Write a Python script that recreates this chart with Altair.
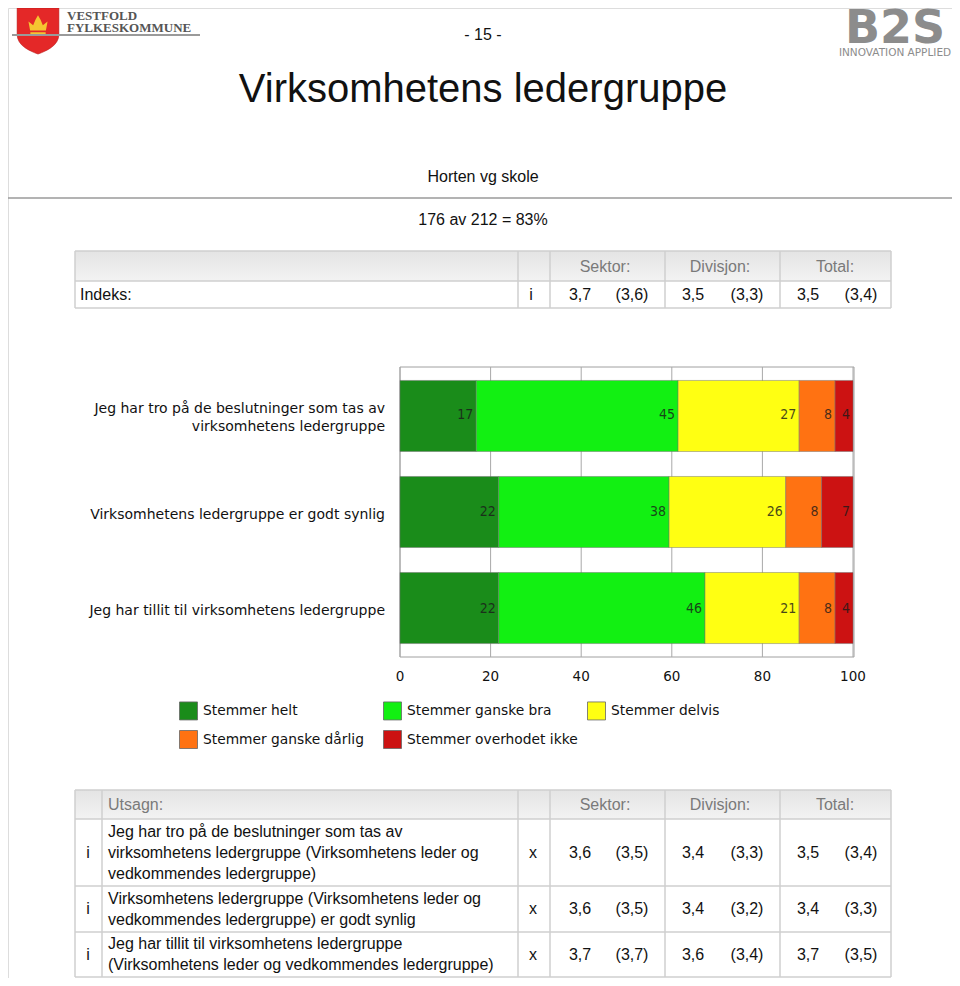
import altair as alt
import pandas as pd

# ------------------------------------------------------------------ data
questions = [
    "Jeg har tro på de beslutninger som tas av virksomhetens ledergruppe",
    "Virksomhetens ledergruppe er godt synlig",
    "Jeg har tillit til virksomhetens ledergruppe",
]
question_labels = [
    "Jeg har tro på de beslutninger som tas av\nvirksomhetens ledergruppe",
    "Virksomhetens ledergruppe er godt synlig",
    "Jeg har tillit til virksomhetens ledergruppe",
]
categories = [
    "Stemmer helt",
    "Stemmer ganske bra",
    "Stemmer delvis",
    "Stemmer ganske dårlig",
    "Stemmer overhodet ikke",
]
stemmer_helt = [17, 22, 22]
stemmer_ganske_bra = [45, 38, 46]
stemmer_delvis = [27, 26, 21]
stemmer_ganske_darlig = [8, 8, 8]
stemmer_overhodet_ikke = [4, 7, 4]
x_ticks = [0, 20, 40, 60, 80, 100]

page_number = "- 15 -"
page_title = "Virksomhetens ledergruppe"
unit_name = "Horten vg skole"
response_rate = "176 av 212 = 83%"

col_headers = ["Sektor:", "Divisjon:", "Total:"]
index_label = "Indeks:"
index_values = ["3,7", "(3,6)", "3,5", "(3,3)", "3,5", "(3,4)"]

statement_header = "Utsagn:"
statements = [
    "Jeg har tro på de beslutninger som tas av\nvirksomhetens ledergruppe (Virksomhetens leder og\nvedkommendes ledergruppe)",
    "Virksomhetens ledergruppe (Virksomhetens leder og\nvedkommendes ledergruppe) er godt synlig",
    "Jeg har tillit til virksomhetens ledergruppe\n(Virksomhetens leder og vedkommendes ledergruppe)",
]
sektor_now = ["3,6", "3,6", "3,7"]
sektor_prev = ["(3,5)", "(3,5)", "(3,7)"]
divisjon_now = ["3,4", "3,4", "3,6"]
divisjon_prev = ["(3,3)", "(3,2)", "(3,4)"]
total_now = ["3,5", "3,4", "3,7"]
total_prev = ["(3,4)", "(3,3)", "(3,5)"]

# ------------------------------------------------------------------ styles
colors = ["#1a8c1a", "#12f012", "#ffff12", "#ff7212", "#cc1212"]
SANS = "Liberation Sans, Arial, sans-serif"
CHARTF = "DejaVu Sans, Verdana, sans-serif"
NARROW = "Liberation Sans Narrow, DejaVu Sans Condensed, sans-serif"
W, H = 944, 970


def p(v):
    """page pixel -> chart pixel (page has 8px margin)"""
    return v - 8


one = pd.DataFrame({"k": [0]})


def text(s, x, y, size=15, align="left", color="#111", font=SANS,
         weight="normal", baseline="middle", lh=None):
    kw = dict(text=s, align=align, baseline=baseline, fontSize=size,
              font=font, color=color, fontWeight=weight, lineBreak="\n")
    if lh is not None:
        kw["lineHeight"] = lh
        # centre a multi-line block on y
        n = s.count("\n") + 1
        kw["dy"] = -(n - 1) * lh / 2
    return alt.Chart(one).mark_text(**kw).encode(
        x=alt.value(p(x)), y=alt.value(p(y)))


def hline(x1, x2, y, color="#cfcfcf", w=1.5):
    return alt.Chart(one).mark_rule(color=color, strokeWidth=w).encode(
        x=alt.value(p(x1)), x2=alt.value(p(x2)), y=alt.value(p(y)))


def vline(x, y1, y2, color="#cfcfcf", w=1.5):
    return alt.Chart(one).mark_rule(color=color, strokeWidth=w).encode(
        x=alt.value(p(x)), y=alt.value(p(y1)), y2=alt.value(p(y2)))


def box(x1, x2, y1, y2, fill, stroke=None, sw=0):
    kw = dict(fill=fill, strokeWidth=sw)
    if stroke:
        kw["stroke"] = stroke
    return alt.Chart(one).mark_rect(**kw).encode(
        x=alt.value(p(x1)), x2=alt.value(p(x2)),
        y=alt.value(p(y1)), y2=alt.value(p(y2)))


layers = []

# ------------------------------------------------------------------ logos
shield = "M -1 -1 L 1 -1 L 1 0.25 C 1 0.8 0.4 1.05 0 1.2 C -0.4 1.05 -1 0.8 -1 0.25 Z"
crown = ("M -0.62 0.35 L -0.75 -0.35 L -0.38 -0.05 L -0.2 -0.5 L 0 -0.85 "
         "L 0.2 -0.5 L 0.38 -0.05 L 0.75 -0.35 L 0.62 0.35 Z M -0.6 0.5 L 0.6 0.5 L 0.6 0.75 L -0.6 0.75 Z")
layers.append(alt.Chart(one).mark_point(shape=shield, filled=True, fill="#e42828",
                                        size=1750, opacity=1, stroke="#b01818", strokeWidth=0.5)
              .encode(x=alt.value(p(38)), y=alt.value(p(29))))
layers.append(alt.Chart(one).mark_point(shape=crown, filled=True, fill="#f5c531",
                                        size=650, opacity=1)
              .encode(x=alt.value(p(38)), y=alt.value(p(26))))
layers.append(text("VESTFOLD", 67, 20, size=13, font="Liberation Serif, serif",
                   weight="bold", color="#555", baseline="alphabetic"))
layers.append(text("FYLKESKOMMUNE", 67, 32, size=13, font="Liberation Serif, serif",
                   weight="bold", color="#555", baseline="alphabetic"))
layers.append(hline(12, 200, 35, color="#9a9a9a", w=2))

layers.append(text("B2S", 895, 43, size=46, font="DejaVu Sans, sans-serif",
                   weight="bold", color="#8c8c8c", align="center", baseline="alphabetic"))
layers.append(text("INNOVATION APPLIED", 895, 53, size=10.5, font="DejaVu Sans, sans-serif",
                   color="#8c8c8c", align="center", baseline="middle"))

# ------------------------------------------------------------------ header
layers.append(text(page_number, 483, 35, size=16, align="center"))
layers.append(text(page_title, 483, 102, size=40, align="center", baseline="alphabetic"))
layers.append(text(unit_name, 483, 177, size=16, align="center"))
layers.append(hline(8, 960, 198, color="#9a9a9a", w=1.5))
layers.append(text(response_rate, 483, 220, size=16, align="center"))

# ------------------------------------------------------------------ top table
hdr_grad = alt.Gradient(gradient="linear", stops=[
    alt.GradientStop(color="#e4e4e4", offset=0),
    alt.GradientStop(color="#f3f3f3", offset=1)], x1=0, x2=0, y1=0, y2=1)
TL, TR = 75, 891
cols_b = [518, 550, 665, 780]
head_c = [605, 720, 835]
val_c = [580, 632, 693, 747, 808, 861]
TS = 16

layers.append(alt.Chart(one).mark_rect(fill=hdr_grad).encode(
    x=alt.value(p(TL)), x2=alt.value(p(TR)), y=alt.value(p(251)), y2=alt.value(p(281))))
for y in [251, 281, 308]:
    layers.append(hline(TL, TR, y))
for x in [TL] + cols_b + [TR]:
    layers.append(vline(x, 251, 308))
for s, x in zip(col_headers, head_c):
    layers.append(text(s, x, 267, size=16, align="center", color="#7a7a7a"))
layers.append(text(index_label, 80, 295, size=TS))
layers.append(text("i", 531, 295, size=TS, align="center"))
for s, x in zip(index_values, val_c):
    layers.append(text(s, x, 295, size=TS, align="center"))

# ------------------------------------------------------------------ bar chart
rows = []
series = [stemmer_helt, stemmer_ganske_bra, stemmer_delvis,
          stemmer_ganske_darlig, stemmer_overhodet_ikke]
for qi, q in enumerate(questions):
    for ci, c in enumerate(categories):
        rows.append({"question": q, "category": c, "order": ci, "value": series[ci][qi]})
df = pd.DataFrame(rows)

xs = alt.Scale(domain=[0, 1], range=[p(400), p(853)], nice=False, zero=False)
xs100 = alt.Scale(domain=[0, 100], range=[p(400), p(853)], nice=False, zero=False)
ys = alt.Scale(domain=questions, range=[p(367), p(657)], paddingInner=0.26, paddingOuter=0.14)

tick_df = pd.DataFrame({"t": x_ticks})

# frame + grid
layers.append(box(400, 854, 367, 657, fill="white", stroke="#a0a0a0", sw=1))
layers.append(alt.Chart(tick_df).mark_rule(color="#a8a8a8", strokeWidth=1).encode(
    x=alt.X("t:Q", scale=xs100, axis=None),
    y=alt.value(p(367)), y2=alt.value(p(657))))

stack = dict(stack="value", groupby=["question"], as_=["x0", "x1"], offset="normalize",
             sort=[alt.SortField("order", "ascending")])

bars = alt.Chart(df).transform_stack(**stack).mark_bar(
    stroke="#707070", strokeWidth=0.8, strokeOpacity=0.6, opacity=1).encode(
    x=alt.X("x0:Q", scale=xs, axis=None),
    x2="x1:Q",
    y=alt.Y("question:N", scale=ys, axis=None, sort=questions),
    color=alt.Color("category:N", scale=alt.Scale(domain=categories, range=colors),
                    sort=categories,
                    legend=alt.Legend(orient="none", legendX=p(179), legendY=p(701),
                                      direction="horizontal", gridAlign="all",
                                      columns=3, title=None, symbolType="square",
                                      symbolSize=324, symbolStrokeWidth=0.8,
                                      symbolStrokeColor="#666", symbolOpacity=1,
                                      labelFont=CHARTF, labelFontSize=13.8,
                                      labelColor="#111", labelOffset=5,
                                      rowPadding=6, columnPadding=7,
                                      labelLimit=400)),
    order=alt.Order("order:Q"),
)
layers.append(bars)

seg_text = alt.Chart(df).transform_stack(**stack).mark_text(
    align="right", baseline="middle", dx=-3, font=NARROW, fontSize=14,
    color="#1a1a1a", opacity=0.8).encode(
    x=alt.X("x1:Q", scale=xs, axis=None),
    y=alt.Y("question:N", scale=ys, axis=None, sort=questions),
    text="value:Q",
)
layers.append(seg_text)

# category labels (grouped by number of lines so each block is centred on its bar)
LH = 18
lab_df = pd.DataFrame({"question": questions, "label": question_labels})
lab_df["n"] = lab_df["label"].str.count("\n") + 1
for n in sorted(lab_df["n"].unique()):
    layers.append(alt.Chart(lab_df[lab_df["n"] == n]).mark_text(
        align="right", baseline="middle", lineBreak="\n", lineHeight=LH,
        dy=-(int(n) - 1) * LH / 2 + 2.5,
        font=CHARTF, fontSize=14, color="#111").encode(
        x=alt.value(p(385)),
        y=alt.Y("question:N", scale=ys, axis=None, sort=questions),
        text="label:N"))

# axis tick labels
layers.append(alt.Chart(tick_df).mark_text(
    align="center", baseline="middle", font=CHARTF, fontSize=13.5, color="#111").encode(
    x=alt.X("t:Q", scale=xs100, axis=None),
    y=alt.value(p(677)),
    text="t:Q"))

# ------------------------------------------------------------------ bottom table
BT = [790, 819, 886, 932, 977]
layers.append(alt.Chart(one).mark_rect(fill=hdr_grad).encode(
    x=alt.value(p(TL)), x2=alt.value(p(TR)), y=alt.value(p(BT[0])), y2=alt.value(p(BT[1]))))
for y in BT:
    layers.append(hline(TL, TR, y))
for x in [TL, 102] + cols_b + [TR]:
    layers.append(vline(x, BT[0], BT[-1]))
hdr_mid = (BT[0] + BT[1]) / 2
layers.append(text(statement_header, 108, hdr_mid, size=16, color="#7a7a7a"))
for s, x in zip(col_headers, head_c):
    layers.append(text(s, x, hdr_mid, size=16, align="center", color="#7a7a7a"))

for i in range(3):
    y = (BT[i + 1] + BT[i + 2]) / 2
    layers.append(text("i", 88, y, size=TS, align="center"))
    layers.append(text(statements[i], 108, y, size=TS, lh=21))
    layers.append(text("x", 533, y, size=TS, align="center"))
    vals = [sektor_now[i], sektor_prev[i], divisjon_now[i], divisjon_prev[i],
            total_now[i], total_prev[i]]
    for s, x in zip(vals, val_c):
        layers.append(text(s, x, y, size=TS, align="center"))

chart = alt.layer(*layers).resolve_scale(x="independent", y="independent").properties(
    width=W, height=H, autosize=alt.AutoSizeParams(type="none"), padding=0
).configure_view(stroke=None).configure(background="white")

chart.save("out.html", embed_options={"renderer": "svg", "actions": False})
